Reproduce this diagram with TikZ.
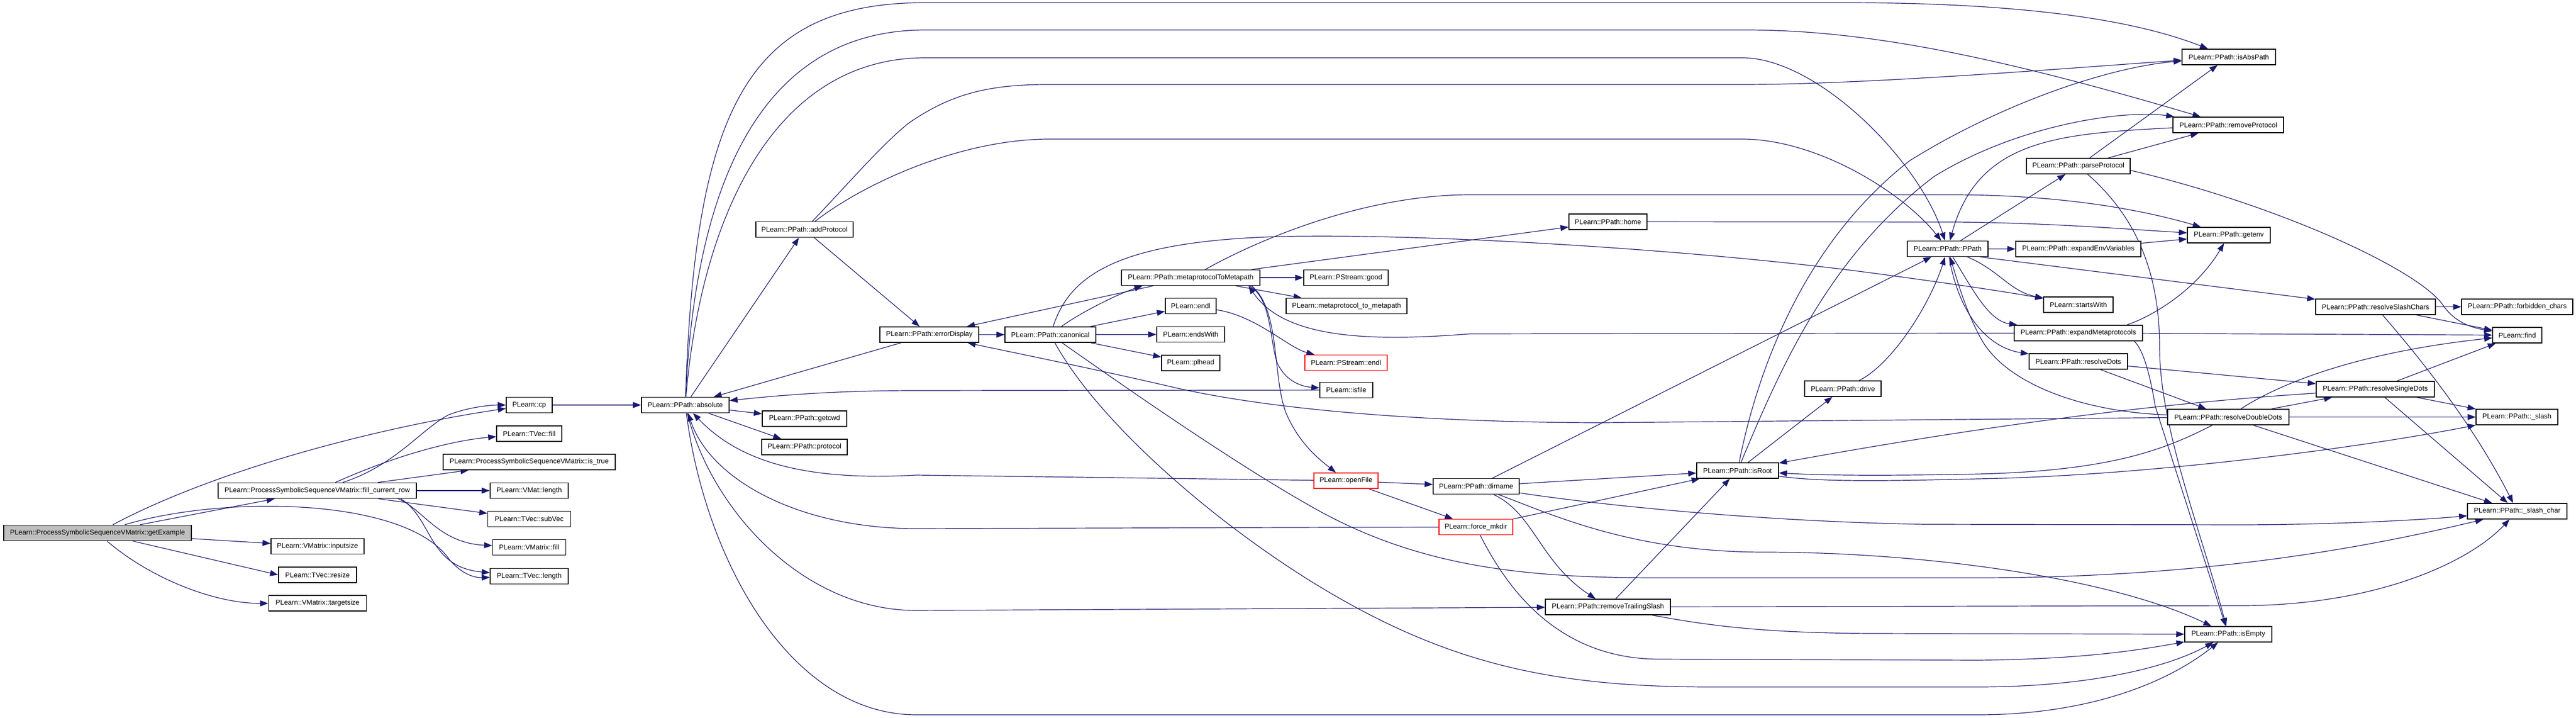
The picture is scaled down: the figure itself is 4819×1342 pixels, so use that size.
\documentclass[tikz,border=0pt]{standalone}
\usepackage{fontspec}
\setmainfont{Liberation Sans}
\usetikzlibrary{arrows.meta,calc,backgrounds}
\definecolor{dblue}{HTML}{191970}
\begin{document}
\begin{tikzpicture}[x=0.5pt,y=-0.5pt,
  bx/.style={draw=black, line width=0.8pt, fill=white, minimum height=14.5pt, inner xsep=1pt, inner ysep=0pt, font=\fontsize{6.5pt}{7.5pt}\selectfont, text=black},
  rbx/.style={bx, draw=red},
  gbx/.style={bx, fill=black!25},
  e/.style={draw=dblue, line width=0.6pt, -{Triangle[length=7.5pt,width=5.5pt]}}]
\useasboundingbox (0,0) rectangle (4819,1342);
% nodes
\node[gbx, minimum width=175.5pt] (G) at (182.5,996) {PLearn::ProcessSymbolicSequenceVMatrix::getExample};
\node[bx, minimum width=185.5pt] (FCR) at (593.5,917) {PLearn::ProcessSymbolicSequenceVMatrix::fill\_current\_row};
\node[bx, minimum width=87pt] (INP) at (594,1021) {PLearn::VMatrix::inputsize};
\node[bx, minimum width=73pt] (RSZ) at (594,1074.5) {PLearn::TVec::resize};
\node[bx, minimum width=91.5pt] (TGT) at (594,1127.5) {PLearn::VMatrix::targetsize};
\node[bx, minimum width=43pt] (CP) at (990,757) {PLearn::cp};
\node[bx, minimum width=61pt] (TF) at (990,810.5) {PLearn::TVec::fill};
\node[bx, minimum width=161pt] (IST) at (990,863.5) {PLearn::ProcessSymbolicSequenceVMatrix::is\_true};
\node[bx, minimum width=73pt] (VML) at (990,917) {PLearn::VMat::length};
\node[bx, minimum width=77.5pt] (SUB) at (990,970) {PLearn::TVec::subVec};
\node[bx, minimum width=68.5pt] (VMF) at (990,1023) {PLearn::VMatrix::fill};
\node[bx, minimum width=73pt] (TVL) at (990,1077) {PLearn::TVec::length};
\node[bx, minimum width=82pt] (ABS) at (1282,757) {PLearn::PPath::absolute};
\node[bx, minimum width=91pt] (ADP) at (1505,429) {PLearn::PPath::addProtocol};
\node[bx, minimum width=79pt] (GCWD) at (1505,782.5) {PLearn::PPath::getcwd};
\node[bx, minimum width=80pt] (PROT) at (1505,835.5) {PLearn::PPath::protocol};
\node[bx, minimum width=92.5pt] (ERR) at (1738.5,625.5) {PLearn::PPath::errorDisplay};
\node[bx, minimum width=85pt] (CAN) at (1965,625.5) {PLearn::PPath::canonical};
\node[bx, minimum width=129.5pt] (MTM) at (2227.5,519) {PLearn::PPath::metaprotocolToMetapath};
\node[bx, minimum width=47.5pt] (ENDL) at (2227.5,572) {PLearn::endl};
\node[bx, minimum width=63.5pt] (EW) at (2227.5,625) {PLearn::endsWith};
\node[bx, minimum width=54.5pt] (PLH) at (2227.5,678.5) {PLearn::plhead};
\node[bx, minimum width=79pt] (GOOD) at (2518,519) {PLearn::PStream::good};
\node[bx, minimum width=113pt] (M2M) at (2519,572) {PLearn::metaprotocol\_to\_metapath};
\node[rbx, minimum width=77pt] (PSE) at (2518,678) {PLearn::PStream::endl};
\node[bx, minimum width=49.5pt] (ISF) at (2518.5,729) {PLearn::isfile};
\node[rbx, minimum width=60pt] (OPF) at (2518,898.5) {PLearn::openFile};
\node[bx, minimum width=80.5pt] (DIR) at (2761.5,909) {PLearn::PPath::dirname};
\node[rbx, minimum width=69pt] (FMK) at (2761,985) {PLearn::force\_mkdir};
\node[bx, minimum width=73pt] (HOME) at (3008,414.5) {PLearn::PPath::home};
\node[bx, minimum width=117pt] (RTS) at (3008,1134.5) {PLearn::PPath::removeTrailingSlash};
\node[bx, minimum width=76.5pt] (ISR) at (3250.5,879.5) {PLearn::PPath::isRoot};
\node[bx, minimum width=71.5pt] (DRV) at (3447.5,726.5) {PLearn::PPath::drive};
\node[bx, minimum width=75.5pt] (PP) at (3643.5,465) {PLearn::PPath::PPath};
\node[bx, minimum width=97pt] (PPR) at (3888,310.5) {PLearn::PPath::parseProtocol};
\node[bx, minimum width=117pt] (EEV) at (3888,465.5) {PLearn::PPath::expandEnvVariables};
\node[bx, minimum width=65pt] (SW) at (3888,569.5) {PLearn::startsWith};
\node[bx, minimum width=120pt] (EMP) at (3888,622.5) {PLearn::PPath::expandMetaprotocols};
\node[bx, minimum width=92pt] (RD) at (3888,675.5) {PLearn::PPath::resolveDots};
\node[bx, minimum width=87.5pt] (IAP) at (4169.5,106.5) {PLearn::PPath::isAbsPath};
\node[bx, minimum width=103.5pt] (RMP) at (4168.5,233.5) {PLearn::PPath::removeProtocol};
\node[bx, minimum width=77.5pt] (GENV) at (4169.5,439.5) {PLearn::PPath::getenv};
\node[bx, minimum width=113.5pt] (RDD) at (4168.5,779.5) {PLearn::PPath::resolveDoubleDots};
\node[bx, minimum width=81.5pt] (ISE) at (4168.5,1185.5) {PLearn::PPath::isEmpty};
\node[bx, minimum width=112pt] (RSC) at (4444,573.5) {PLearn::PPath::resolveSlashChars};
\node[bx, minimum width=110.5pt] (RSD) at (4443.5,727.5) {PLearn::PPath::resolveSingleDots};
\node[bx, minimum width=104pt] (FBC) at (4709,573.5) {PLearn::PPath::forbidden\_chars};
\node[bx, minimum width=46pt] (FIND) at (4709,626.5) {PLearn::find};
\node[bx, minimum width=76.5pt] (SL) at (4708.5,779.5) {PLearn::PPath::\_slash};
\node[bx, minimum width=93pt] (SLC) at (4709,955.5) {PLearn::PPath::\_slash\_char};
\begin{pgfonlayer}{background}
\fill[white] (0,0) rectangle (4819,1342);
% getExample
\draw[e] (G) -- (FCR);
\draw[e] (G) .. controls (400,880) and (700,800) .. (CP);
\draw[e] (G) -- (INP);
\draw[e] (G) -- (RSZ.west);
\draw[e] (G) .. controls (280,1080) and (400,1128) .. (TGT);
\draw[e] (G) .. controls (420,925) and (760,930) .. (840,1045) .. controls (865,1075) and (890,1080) .. (TVL);
% fill_current_row
\draw[e] (FCR) .. controls (740,870) and (790,800) .. (840,775) .. controls (880,760) and (920,757) .. (CP);
\draw[e] (FCR) .. controls (720,860) and (830,825) .. (TF);
\draw[e] (FCR) -- (IST);
\draw[e] (FCR) -- (VML);
\draw[e] (FCR) -- (SUB);
\draw[e] ($(FCR.south east)+(-35,0)$) .. controls (790,950) and (820,1015) .. (VMF);
\draw[e] ($(FCR.south east)+(-30,0)$) .. controls (810,970) and (800,1060) .. (TVL);
\draw[e] (CP) -- (ABS);
% absolute
\draw[e] (ABS) -- (ADP);
\draw[e] (ABS) -- (GCWD);
\draw[e] (ABS) -- (PROT);
\draw[e] (ABS) .. controls (1300,200) and (1400,5) .. (1731,5) -- (3450,5) .. controls (3800,5) and (4000,40) .. (IAP);
\draw[e] (ABS) .. controls (1300,350) and (1420,56) .. (1731,56) -- (3266,56) .. controls (3500,56) and (3750,110) .. (RMP);
\draw[e] (ABS) .. controls (1310,420) and (1440,108) .. (1731,108) -- (3259,108) .. controls (3400,108) and (3590,300) .. (PP);
\draw[e] (ABS) .. controls (1330,950) and (1500,1141) .. (1714,1141) -- (RTS);
\draw[e] (ABS) .. controls (1320,1050) and (1480,1336) .. (1714,1336) -- (3700,1336) .. controls (3900,1336) and (4050,1280) .. (ISE);
% addProtocol
\draw[e] (ADP) -- (ERR);
\draw[e] (ADP) .. controls (1590,340) and (1650,270) .. (1700,230) .. controls (1780,175) and (1850,158) .. (1960,158) -- (3260,158) .. controls (3500,158) and (3900,125) .. (IAP);
\draw[e] (ADP) .. controls (1620,340) and (1800,260) .. (1963,260) -- (3259,260) .. controls (3400,260) and (3560,360) .. (PP);
% errorDisplay, canonical
\draw[e] (ERR) -- (CAN);
\draw[e] (ERR) -- (ABS);
\draw[e] (CAN) .. controls (2020,585) and (2090,550) .. ($(MTM.south west)+(40,0)$);
\draw[e] (CAN) -- (ENDL);
\draw[e] (CAN) -- (EW);
\draw[e] (CAN) -- (PLH);
\draw[e] (CAN) .. controls (2000,520) and (2080,450) .. (2400,442) .. controls (2700,436) and (3200,470) .. (3500,510) .. controls (3650,530) and (3750,545) .. (SW);
\draw[e] (CAN) .. controls (2050,780) and (2250,960) .. (2450,1085) .. controls (2700,1240) and (2900,1284) .. (3200,1284) -- (3700,1284) .. controls (3900,1284) and (4050,1250) .. (ISE);
\draw[e] (CAN) .. controls (2100,720) and (2300,860) .. (2450,945) .. controls (2650,1060) and (2850,1080) .. (3100,1080) -- (3700,1080) .. controls (4100,1080) and (4400,1030) .. (SLC);
% metaprotocolToMetapath
\draw[e] (MTM) -- (ERR);
\draw[e] (MTM) -- (GOOD);
\draw[e] (MTM) -- (M2M);
\draw[e] (MTM) -- (HOME);
\draw[e] (MTM) .. controls (2350,450) and (2550,364) .. (2750,364) -- (3650,364) .. controls (3850,364) and (4000,390) .. (GENV);
\draw[e] ($(MTM.south east)+(-20,0)$) .. controls (2380,560) and (2375,640) .. (2390,680) .. controls (2405,710) and (2430,722) .. (ISF);
\draw[e] ($(MTM.south east)+(-16,0)$) .. controls (2395,580) and (2380,700) .. (2405,770) .. controls (2430,830) and (2470,860) .. (OPF);
\draw[e] (EMP) -- (2750,624) .. controls (2550,640) and (2400,630) .. ($(MTM.south east)+(-22,0)$);
\draw[e] (ENDL) .. controls (2350,590) and (2410,650) .. (PSE);
\draw[e] (HOME) -- (3660,415) .. controls (3850,417) and (4000,430) .. (GENV);
\draw[e] (ISF) -- (1714,730) .. controls (1550,730) and (1450,740) .. (ABS);
% openFile, force_mkdir
\draw[e] (OPF) -- (1714,888) .. controls (1500,900) and (1380,860) .. (ABS);
\draw[e] (OPF) -- (DIR);
\draw[e] (OPF) -- (FMK);
\draw[e] (FMK) -- (1714,988) .. controls (1500,988) and (1330,900) .. (ABS);
\draw[e] (FMK) -- (ISR);
\draw[e] (FMK) .. controls (2810,1080) and (2900,1230) .. (3100,1232) -- (3700,1234) .. controls (3900,1232) and (4000,1215) .. (ISE);
% dirname
\draw[e] (DIR) -- (ISR);
\draw[e] (DIR) -- (PP);
\draw[e] (DIR) .. controls (2870,960) and (2880,1050) .. (RTS);
\draw[e] (DIR) .. controls (3000,945) and (3300,975) .. (3600,980) -- (4200,981) .. controls (4400,980) and (4550,970) .. (SLC);
\draw[e] (DIR) .. controls (2900,960) and (3050,1032) .. (3300,1032) .. controls (3600,1032) and (3950,1080) .. (ISE);
% removeTrailingSlash
\draw[e] (RTS) -- (ISR);
\draw[e] (RTS) -- (4200,1132) .. controls (4450,1130) and (4620,1050) .. (SLC);
\draw[e] (RTS) .. controls (3200,1170) and (3300,1183) .. (3500,1184) -- (ISE);
% isRoot
\draw[e] (ISR) -- (DRV);
\draw[e] (ISR) .. controls (3290,680) and (3380,450) .. (3573,300) .. controls (3750,190) and (3950,125) .. (IAP);
\draw[e] (ISR) .. controls (3330,690) and (3420,480) .. (3618,330) .. controls (3780,230) and (3980,205) .. (RMP);
\draw[e] (ISR) .. controls (3400,900) and (3500,900) .. (3700,895) .. controls (4000,890) and (4400,840) .. (SL);
\draw[e] (DRV) .. controls (3540,680) and (3610,570) .. (PP);
% PPath
\draw[e] (PP) -- (PPR);
\draw[e] (PP) -- (EEV);
\draw[e] (PP) .. controls (3740,505) and (3760,545) .. (SW);
\draw[e] (PP) .. controls (3690,540) and (3720,600) .. (EMP);
\draw[e] (PP) .. controls (3665,590) and (3720,650) .. (RD);
\draw[e] ($(PP.south east)+(-15,0)$) -- (RSC);
\draw[e] (RMP) .. controls (3850,250) and (3700,260) .. (PP);
% parseProtocol
\draw[e] (PPR) -- (IAP);
\draw[e] (PPR) -- (RMP);
\draw[e] ($(PPR.east)+(0,8)$) .. controls (4250,380) and (4520,500) .. (4570,570) .. controls (4590,600) and (4620,612) .. (FIND);
\draw[e] (PPR) .. controls (3990,400) and (4040,500) .. (4040,650) .. controls (4040,800) and (4120,1000) .. (ISE);
% expandMetaprotocols, expandEnvVariables
\draw[e] ($(EMP.south east)+(-16,0)$) .. controls (4010,655) and (4022,700) .. (4032,760) -- (ISE);
\draw[e] ($(EMP.north east)+(-30,0)$) .. controls (4030,590) and (4110,540) .. (GENV);
\draw[e] (EMP) -- (FIND);
\draw[e] (EEV) -- (GENV);
% resolveDots & co
\draw[e] (RD) -- (RSD);
\draw[e] (RD) -- (RDD);
\draw[e] (RDD) -- (RSD);
\draw[e] (RDD) -- (SL);
\draw[e] (RDD) -- (SLC);
\draw[e] (RDD) .. controls (4260,720) and (4400,660) .. (FIND);
\draw[e] (RDD) .. controls (4050,840) and (3950,880) .. (3700,886) .. controls (3500,890) and (3400,888) .. (ISR);
\draw[e] (RDD) -- (3000,790) .. controls (2700,790) and (2400,770) .. (2200,725) .. controls (2050,690) and (1900,660) .. (ERR);
\draw[e] (RDD) .. controls (3900,770) and (3760,720) .. (3710,640) .. controls (3680,590) and (3660,520) .. (PP);
\draw[e] (RSD) -- (SL);
\draw[e] (RSD) -- (SLC);
\draw[e] (RSD) -- (FIND);
\draw[e] (RSD) .. controls (4100,750) and (3800,780) .. (ISR);
\draw[e] (RSC) -- (FBC);
\draw[e] (RSC) -- (FIND);
\draw[e] (RSC) .. controls (4510,650) and (4620,780) .. (SLC);
\end{pgfonlayer}
\end{tikzpicture}
\end{document}
